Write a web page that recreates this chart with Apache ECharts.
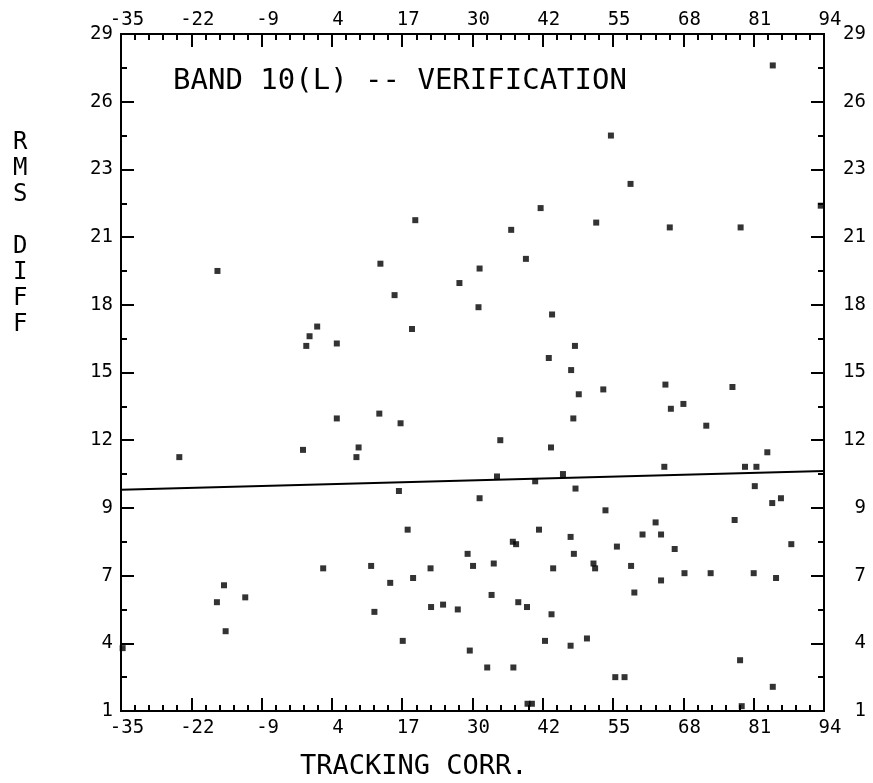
<!DOCTYPE html>
<html>
<head>
<meta charset="utf-8">
<title>BAND 10(L) -- VERIFICATION</title>
<script src="https://cdn.jsdelivr.net/npm/echarts@6/dist/echarts.min.js"></script>
<style>
  html, body { margin: 0; padding: 0; background: #fff; }
  #chart { width: 873px; height: 783px; }
</style>
</head>
<body>
<div id="chart"></div>
<script>
// one point per case: tracking correction (x) against rms difference (y)
const trackCorr = [
  19.0, -17.3, 12.6, 30.8, 27.1, 15.2, 30.6, 1.0, -0.4, -1.0,
  4.6, 18.4, 12.4, 4.6, 16.3, -24.3, -1.6, 8.6, 8.2, 16.0,
  30.8, 17.6, 28.6, 29.6, 2.1, 10.9, 21.8, 14.4, 18.6, -16.1,
  -17.4, -12.2, 11.5, 21.9, 24.1, 26.8, -15.8, 16.7, 29.0, 32.2,
  65.9, 68.2, 48.0, 72.4, 34.6, 43.9, 83.6, 64.7, 79.5, 81.6,
  34.0, 46.1, 41.0, 48.4, 81.3, 84.5, 86.1, 53.9, 77.6, 63.1,
  41.7, 60.7, 64.1, 36.9, 37.5, 47.5, 88.0, 56.0, 66.6, 48.1,
  33.4, 51.7, 52.0, 58.6, 44.3, 68.4, 73.2, 81.1, 85.2, 64.1,
  59.2, 33.0, 37.9, 39.5, 44.0, 42.8, 47.5, 50.5, 37.0, 55.7,
  57.4, 78.6, 84.6, 78.9, 84.6, 54.9, 58.5, 42.0, 93.4, 36.6,
  52.2, 65.7, 78.7, 39.3, 44.1, 48.3, 43.5, 47.6, 49.0, 53.5,
  64.9, 77.2, -34.7, 39.6, 40.4
];
const rmsDiff = [
  21.3, 19.2, 19.5, 19.3, 18.7, 18.2, 17.7, 16.9, 16.5, 16.1,
  16.2, 16.8, 13.3, 13.1, 12.9, 11.5, 11.8, 11.9, 11.5, 10.1,
  9.8, 8.5, 7.5, 7.0, 6.9, 7.0, 6.9, 6.3, 6.5, 6.2,
  5.5, 5.7, 5.1, 5.3, 5.4, 5.2, 4.3, 3.9, 3.5, 2.8,
  13.5, 13.7, 13.1, 12.8, 12.2, 11.9, 11.7, 11.1, 11.1, 11.1,
  10.7, 10.8, 10.5, 10.2, 10.3, 9.6, 9.8, 9.3, 8.9, 8.8,
  8.5, 8.3, 8.3, 8.0, 7.9, 8.2, 7.9, 7.8, 7.7, 7.5,
  7.1, 7.1, 6.9, 7.0, 6.9, 6.7, 6.7, 6.7, 6.5, 6.4,
  5.9, 5.8, 5.5, 5.3, 5.0, 3.9, 3.7, 4.0, 2.8, 2.4,
  2.4, 3.1, 2.0, 1.2, 27.7, 24.8, 22.8, 21.8, 21.9, 20.9,
  21.2, 21.0, 21.0, 19.7, 17.4, 16.1, 15.6, 15.1, 14.1, 14.3,
  14.5, 14.4, 3.6, 1.3, 1.3
];

// fitted line, drawn edge to edge
const fitX = [-35, 94];
const fitY = [10.15, 10.93];

// axis ticks; the printed labels are these rounded
const xTicks = [-35, -22.1, -9.2, 3.7, 16.6, 29.5, 42.4, 55.3, 68.2, 81.1, 94];
const yTicks = [1, 3.8, 6.6, 9.4, 12.2, 15, 17.8, 20.6, 23.4, 26.2, 29];

const FONT = 'DejaVu Sans Mono';

// small ticks between the big ones
function minorTicks(ticks, parts) {
  let out = [];
  for (let i = 0; i < ticks.length - 1; i++) {
    let step = (ticks[i + 1] - ticks[i]) / parts;
    for (let k = 1; k < parts; k++) out.push(ticks[i] + step * k);
  }
  return out;
}

function axis(pos, min, max, ticks, len, label) {
  return {
    type: 'value',
    position: pos,
    min: min,
    max: max,
    axisLine: { show: true, onZero: false, lineStyle: { color: '#000', width: 2 } },
    axisTick: { show: true, inside: true, length: len, customValues: ticks,
      lineStyle: { color: '#000', width: 2 } },
    axisLabel: label ? Object.assign({
      customValues: ticks,
      formatter: v => String(Math.round(v)),
      color: '#000', fontFamily: FONT, fontSize: 19
    }, label) : { show: false },
    splitLine: { show: false }
  };
}

const xMinor = minorTicks(xTicks, 5);
const yMinor = minorTicks(yTicks, 2);

let chart = echarts.init(document.getElementById('chart'));
chart.setOption({
  backgroundColor: '#fff',
  animation: false,
  title: [
    {
      text: 'BAND 10(L) -- VERIFICATION', left: 173, top: 67, padding: 0,
      textStyle: { fontFamily: FONT, fontSize: 29, fontWeight: 'normal', color: '#000' }
    },
    {
      text: 'TRACKING CORR.', left: 300, top: 753, padding: 0,
      textStyle: { fontFamily: FONT, fontSize: 27, fontWeight: 'normal', color: '#000' }
    },
    {
      text: 'R\nM\nS\n\nD\nI\nF\nF', left: 13, top: 130, padding: 0,
      textStyle: { fontFamily: FONT, fontSize: 24, lineHeight: 26, fontWeight: 'normal', color: '#000' }
    }
  ],
  grid: { left: 121, right: 49, top: 34, bottom: 72 },
  xAxis: [
    axis('bottom', -35, 94, xTicks, 13, { margin: 8, padding: [0, 0, 0, 12] }),
    axis('bottom', -35, 94, xMinor, 6, null),
    axis('top', -35, 94, xTicks, 13, { margin: 4, padding: [0, 0, 0, 12] }),
    axis('top', -35, 94, xMinor, 6, null)
  ],
  yAxis: [
    axis('left', 1, 29, yTicks, 13, { margin: 8 }),
    axis('left', 1, 29, yMinor, 6, null),
    axis('right', 1, 29, yTicks, 13, { margin: 42, align: 'right' }),
    axis('right', 1, 29, yMinor, 6, null)
  ],
  series: [
    {
      type: 'scatter',
      xAxisIndex: 0,
      yAxisIndex: 0,
      symbol: 'rect',
      symbolSize: 6,
      itemStyle: { color: '#000' },
      data: trackCorr.map((x, i) => [x, rmsDiff[i]])
    },
    {
      type: 'line',
      xAxisIndex: 0,
      yAxisIndex: 0,
      symbol: 'none',
      lineStyle: { color: '#000', width: 2 },
      data: fitX.map((x, i) => [x, fitY[i]])
    }
  ]
});
</script>
</body>
</html>
